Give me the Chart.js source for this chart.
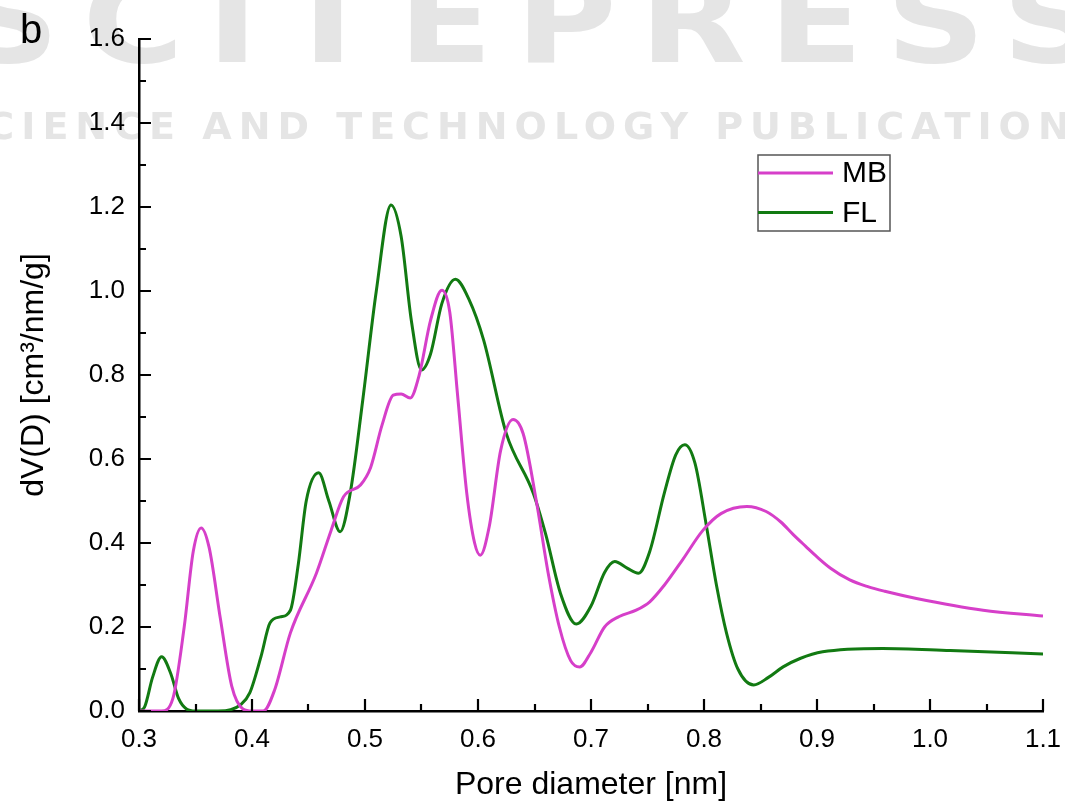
<!DOCTYPE html>
<html>
<head>
<meta charset="utf-8">
<script src="https://cdn.jsdelivr.net/npm/chart.js@4.4.0/dist/chart.umd.min.js"></script>
<style>
  html, body { margin: 0; padding: 0; background: #fff; }
  #wrap { width: 1065px; height: 807px; position: relative; }
</style>
</head>
<body>
<div id="wrap"><canvas id="pore" width="1065" height="807"></canvas></div>
<script>
// pore size distribution
const mbX = [0.300, 0.320, 0.330, 0.340, 0.348, 0.355, 0.362, 0.372, 0.382, 0.392, 0.400, 0.410, 0.420, 0.434, 0.457, 0.470, 0.481, 0.496, 0.505, 0.515, 0.525, 0.532, 0.540, 0.548, 0.558, 0.568, 0.575, 0.582, 0.590, 0.597, 0.602, 0.610, 0.620, 0.631, 0.640, 0.652, 0.662, 0.672, 0.682, 0.690, 0.700, 0.712, 0.725, 0.740, 0.752, 0.765, 0.781, 0.799, 0.815, 0.838, 0.855, 0.868, 0.879, 0.890, 0.900, 0.912, 0.929, 0.945, 0.960, 0.988, 1.047, 1.100];
const mbY = [0, 0, 0.03, 0.20, 0.38, 0.436, 0.39, 0.22, 0.06, 0.005, 0, 0, 0.05, 0.186, 0.328, 0.43, 0.51, 0.538, 0.58, 0.68, 0.752, 0.755, 0.745, 0.80, 0.93, 1.002, 0.95, 0.75, 0.52, 0.40, 0.371, 0.44, 0.62, 0.694, 0.66, 0.494, 0.33, 0.20, 0.12, 0.105, 0.14, 0.20, 0.225, 0.24, 0.26, 0.30, 0.36, 0.43, 0.47, 0.487, 0.475, 0.45, 0.42, 0.392, 0.367, 0.340, 0.312, 0.296, 0.285, 0.268, 0.24, 0.226];

const flX = [0.300, 0.305, 0.312, 0.320, 0.328, 0.335, 0.342, 0.350, 0.370, 0.381, 0.390, 0.398, 0.408, 0.416, 0.425, 0.434, 0.441, 0.448, 0.459, 0.468, 0.478, 0.487, 0.498, 0.510, 0.523, 0.532, 0.541, 0.550, 0.558, 0.568, 0.580, 0.592, 0.605, 0.625, 0.649, 0.660, 0.673, 0.687, 0.700, 0.712, 0.721, 0.732, 0.742, 0.752, 0.765, 0.775, 0.783, 0.792, 0.802, 0.811, 0.820, 0.830, 0.844, 0.857, 0.870, 0.885, 0.905, 0.958, 1.018, 1.100];
const flY = [0, 0.01, 0.08, 0.129, 0.09, 0.03, 0.005, 0, 0, 0.003, 0.015, 0.043, 0.13, 0.21, 0.224, 0.24, 0.35, 0.50, 0.567, 0.50, 0.427, 0.52, 0.74, 1.00, 1.205, 1.13, 0.93, 0.812, 0.85, 0.97, 1.028, 0.98, 0.883, 0.661, 0.518, 0.42, 0.28, 0.207, 0.25, 0.33, 0.356, 0.34, 0.328, 0.38, 0.52, 0.61, 0.634, 0.59, 0.443, 0.30, 0.185, 0.10, 0.062, 0.08, 0.105, 0.125, 0.141, 0.149, 0.144, 0.136];

const seriesNames = ['MB', 'FL'];
const seriesColors = ['#d63fc9', '#127a12'];

const xTicks = [0.3, 0.4, 0.5, 0.6, 0.7, 0.8, 0.9, 1.0, 1.1];
const yTicks = [0.0, 0.2, 0.4, 0.6, 0.8, 1.0, 1.2, 1.4, 1.6];

const toPoints = (xs, ys) => xs.map((x, i) => ({ x: x, y: ys[i] }));

const FONT = '"Liberation Sans", Arial, sans-serif';

// faint publisher watermark behind the plot
const watermark = {
  id: 'watermark',
  beforeDraw(chart) {
    const ctx = chart.ctx;
    ctx.save();
    ctx.fillStyle = '#e5e5e5';
    ctx.textBaseline = 'alphabetic';
    ctx.save();
    ctx.scale(1.15, 1);
    ctx.font = 'bold 120px "DejaVu Sans"';
    ctx.letterSpacing = '20px';
    ctx.fillText('SCITEPRESS', -40 / 1.15, 62);
    ctx.restore();
    ctx.font = 'bold 38px "DejaVu Sans"';
    ctx.letterSpacing = '7px';
    ctx.fillText('SCIENCE AND TECHNOLOGY PUBLICATIONS', -48, 139);
    ctx.restore();
  }
};

// inward ticks (major + minor), panel letter and boxed legend
const decorations = {
  id: 'decorations',
  afterDraw(chart) {
    const ctx = chart.ctx;
    const xs = chart.scales.x, ys = chart.scales.y;
    const left = chart.chartArea.left, bottom = chart.chartArea.bottom;
    ctx.save();
    ctx.strokeStyle = '#000';
    ctx.lineWidth = 2.2;
    ctx.beginPath();
    for (let v = 0.3; v <= 1.1001; v += 0.05) {
      const px = Math.round(xs.getPixelForValue(v));
      const major = Math.abs(v * 10 - Math.round(v * 10)) < 1e-6;
      ctx.moveTo(px, bottom);
      ctx.lineTo(px, bottom - (major ? 12 : 7));
    }
    for (let v = 0; v <= 1.6001; v += 0.1) {
      const py = Math.round(ys.getPixelForValue(v));
      const major = Math.abs(v * 5 - Math.round(v * 5)) < 1e-6;
      ctx.moveTo(left, py);
      ctx.lineTo(left + (major ? 12 : 7), py);
    }
    ctx.stroke();

    ctx.fillStyle = '#000';
    ctx.font = '40px ' + FONT;
    ctx.textBaseline = 'alphabetic';
    ctx.textAlign = 'left';
    ctx.fillText('b', 20, 43);

    // legend
    const lx = 758, ly = 155, lw = 132, lh = 76;
    ctx.fillStyle = '#fff';
    ctx.fillRect(lx, ly, lw, lh);
    ctx.strokeStyle = '#555';
    ctx.lineWidth = 1.5;
    ctx.strokeRect(lx, ly, lw, lh);
    ctx.font = '30px ' + FONT;
    ctx.textBaseline = 'middle';
    chart.data.datasets.forEach((ds, i) => {
      const yy = ly + 18 + i * 39.5;
      ctx.strokeStyle = ds.borderColor;
      ctx.lineWidth = 3;
      ctx.beginPath();
      ctx.moveTo(lx, yy);
      ctx.lineTo(lx + 75, yy);
      ctx.stroke();
      ctx.fillStyle = '#000';
      ctx.fillText(ds.label, lx + 84, yy + 1);
    });
    ctx.restore();
  }
};

new Chart(document.getElementById('pore'), {
  type: 'line',
  data: {
    datasets: [
      { label: seriesNames[0], data: toPoints(mbX, mbY), borderColor: seriesColors[0], borderWidth: 3, pointRadius: 0, cubicInterpolationMode: 'monotone', fill: false },
      { label: seriesNames[1], data: toPoints(flX, flY), borderColor: seriesColors[1], borderWidth: 3, pointRadius: 0, cubicInterpolationMode: 'monotone', fill: false }
    ]
  },
  options: {
    responsive: false,
    animation: false,
    devicePixelRatio: 1,
    layout: { padding: { left: 0, right: 22, top: 39, bottom: 0 } },
    plugins: { legend: { display: false }, tooltip: { enabled: false } },
    scales: {
      x: {
        type: 'linear', min: 0.3, max: 1.1,
        afterBuildTicks: s => { s.ticks = xTicks.map(v => ({ value: v })); },
        afterFit: s => { s.height = 96; s.paddingLeft = 0; s.paddingRight = 0; },
        grid: { display: false, drawTicks: false },
        border: { display: true, color: '#000', width: 2.5 },
        ticks: { color: '#000', padding: 13, maxRotation: 0, autoSkip: false, font: { family: FONT, size: 26 }, callback: v => v.toFixed(1) },
        title: { display: true, text: 'Pore diameter [nm]', color: '#000', padding: { top: 0, bottom: 3 }, font: { family: FONT, size: 32, lineHeight: 1.2 } }
      },
      y: {
        min: 0, max: 1.6,
        afterBuildTicks: s => { s.ticks = yTicks.map(v => ({ value: v })); },
        afterFit: s => { s.width = 139; s.paddingTop = 0; s.paddingBottom = 0; },
        grid: { display: false, drawTicks: false },
        border: { display: true, color: '#000', width: 2.5 },
        ticks: { color: '#000', padding: 14, autoSkip: false, font: { family: FONT, size: 26 }, callback: v => v.toFixed(1) },
        title: { display: true, text: 'dV(D) [cm³/nm/g]', color: '#000', padding: { top: 15, bottom: 0 }, font: { family: FONT, size: 32, lineHeight: 1.2 } }
      }
    }
  },
  plugins: [watermark, decorations]
});
</script>
</body>
</html>
